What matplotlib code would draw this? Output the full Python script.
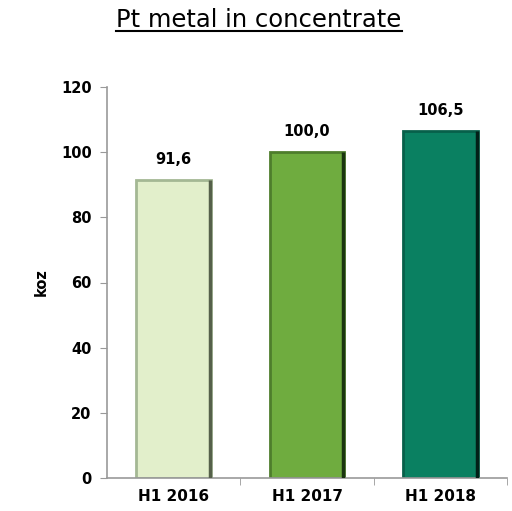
import numpy as np
import matplotlib.pyplot as plt

# data
categories = ['H1 2016', 'H1 2017', 'H1 2018']
values = [91.6, 100.0, 106.5]
labels = ['91,6', '100,0', '106,5']
colors = ['#E2EFCB', '#6FAC3F', '#0A8061']
edges = ['#A4B894', '#4E7D2C', '#07604A']
shades = ['#55604A', '#1A3510', '#022018']

plt.rcParams['font.family'] = ['DejaVu Sans']

fig = plt.figure(figsize=(5.12, 5.11), dpi=100)
ax = fig.add_axes([107/512, 1 - 478/511, 400/512, 391/511])

x = np.arange(len(categories))
w = 0.56
ax.bar(x, values, width=w, color=colors, edgecolor=edges, linewidth=2.0, zorder=2)
# darker right-hand shading of each bar
ax.vlines(x + w / 2 - 0.008, 0, values, colors=shades, linewidth=2.5, zorder=3)

for xi, v, lab in zip(x, values, labels):
    ax.text(xi, v + 4, lab, ha='center', va='bottom', fontsize=10.5, fontweight='bold')

ax.set_xlim(-0.5, 2.5)
ax.set_ylim(0, 120)
ax.set_yticks(range(0, 121, 20))
ax.set_xticks(x)
ax.set_xticklabels(categories, fontsize=11, fontweight='bold')
ax.set_xticks([0.5, 1.5, 2.5], minor=True)
ax.tick_params(axis='x', which='major', length=0, pad=8)
ax.tick_params(axis='x', which='minor', length=5, color='#999999', direction='out')
ax.tick_params(axis='y', length=5, color='#999999', labelsize=10.5, pad=6)
for t in ax.get_yticklabels():
    t.set_fontweight('bold')

for s in ['top', 'right']:
    ax.spines[s].set_visible(False)
for s in ['left', 'bottom']:
    ax.spines[s].set_color('#999999')
    ax.spines[s].set_linewidth(1.2)

ax.set_ylabel('koz', fontsize=10.5, fontweight='bold', labelpad=9)

t = fig.text(259/512, 1 - 20/511, 'Pt metal in concentrate', ha='center', va='center',
             fontsize=17.5)
fig.canvas.draw()
bb = t.get_window_extent()
fig.add_artist(plt.Line2D([bb.x0 / 512, bb.x1 / 512], [(bb.y0 + 1) / 511] * 2,
                          color='black', linewidth=1.5, transform=fig.transFigure))

fig.savefig('out.png', dpi=100)
